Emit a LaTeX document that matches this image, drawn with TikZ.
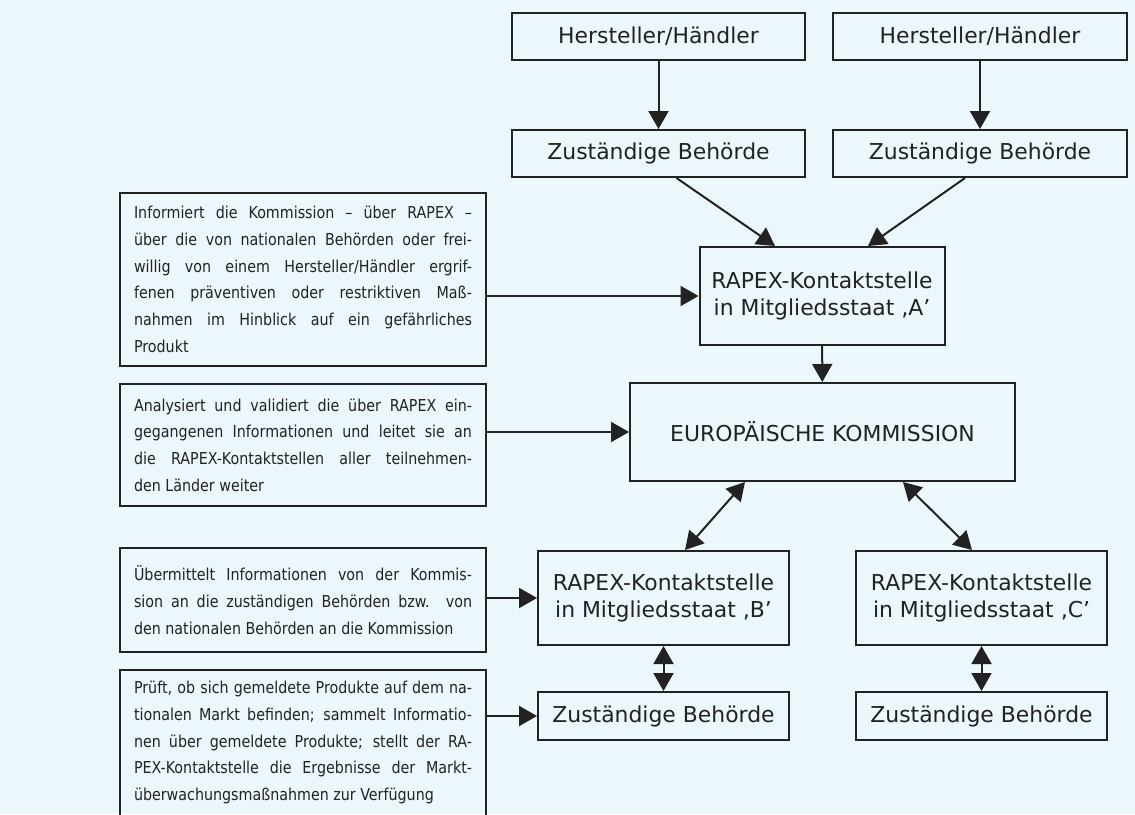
\documentclass[tikz,border=0pt]{standalone}
\usepackage{fontspec}
\setmainfont{DejaVu Sans}
\newfontfamily\condfont{DejaVu Sans}[FakeStretch=0.87]
\usetikzlibrary{arrows.meta}

\definecolor{fond}{RGB}{236,247,252}
\definecolor{trait}{RGB}{34,34,34}

\newcommand\boitefont{\fontsize{10.95pt}{13.5pt}\selectfont}
\newcommand\textefont{\condfont\fontsize{8.2pt}{13.35pt}\selectfont\tolerance=10000\hyphenpenalty=10000}

\tikzset{
  boite/.style={draw=trait, line width=1pt, text=trait, align=center, font=\boitefont, inner sep=2pt},
  texte/.style={draw=trait, line width=1pt, text=trait, align=justify, font=\textefont,
    text width=169pt, inner xsep=7pt, inner ysep=2pt, minimum width=183pt},
  fleche/.style={draw=trait, line width=1pt, -{Triangle[length=9pt,width=10pt]}},
  dfleche/.style={draw=trait, line width=1pt, {Triangle[length=9pt,width=10pt]}-{Triangle[length=9pt,width=10pt]}}
}

\begin{document}
\begin{tikzpicture}[x=0.5pt, y=-0.5pt]

  % 1. Fond
  \useasboundingbox (0,0) rectangle (1135,814);
  \fill[fond] (0,0) rectangle (1135,814);

  % 2. Hersteller et autorités en haut
  \node[boite, minimum width=146.5pt, minimum height=23.5pt] (hs1) at (658.5,36.5) {Hersteller/Händler};
  \node[boite, minimum width=147pt, minimum height=23.5pt] (hs2) at (980,36.5) {Hersteller/Händler};
  \node[boite, minimum width=146.5pt, minimum height=23.5pt] (zb1) at (658.5,153.5) {Zuständige Behörde};
  \node[boite, minimum width=147pt, minimum height=23.5pt] (zb2) at (980,153.5) {Zuständige Behörde};

  % 3. Point de contact A et Commission
  \node[boite, minimum width=122.5pt, minimum height=49pt] (rpA) at (822,296) {RAPEX-Kontaktstelle\\in Mitgliedsstaat ‚A’};
  \node[boite, minimum width=192.5pt, minimum height=49pt] (ek) at (822.5,432) {EUROPÄISCHE KOMMISSION};

  % 4. Points de contact B et C, autorités en bas
  \node[boite, minimum width=125.5pt, minimum height=47pt] (rpB) at (663.5,598) {RAPEX-Kontaktstelle\\in Mitgliedsstaat ‚B’};
  \node[boite, minimum width=125.5pt, minimum height=47pt] (rpC) at (981.5,598) {RAPEX-Kontaktstelle\\in Mitgliedsstaat ‚C’};
  \node[boite, minimum width=125.5pt, minimum height=24pt] (zbB) at (663.5,716) {Zuständige Behörde};
  \node[boite, minimum width=125.5pt, minimum height=24pt] (zbC) at (981.5,716) {Zuständige Behörde};

  % 5. Textes explicatifs à gauche
  \node[texte, minimum height=86.5pt] (t1) at (303,279.5) {Informiert die Kommission – über RAPEX –\linebreak
    über die von nationalen Behörden oder frei-\linebreak
    willig von einem Hersteller/Händler ergrif-\linebreak
    fenen präventiven oder restriktiven Maß-\linebreak
    nahmen im Hinblick auf ein gefährliches\linebreak
    Produkt};
  \node[texte, minimum height=61pt] (t2) at (303,445) {Analysiert und validiert die über RAPEX ein-\linebreak
    gegangenen Informationen und leitet sie an\linebreak
    die RAPEX-Kontaktstellen aller teilnehmen-\linebreak
    den Länder weiter};
  \node[texte, minimum height=52pt] (t3) at (303,600) {Übermittelt Informationen von der Kommis-\linebreak
    sion an die zuständigen Behörden bzw. von\linebreak
    den nationalen Behörden an die Kommission};
  \node[texte, minimum height=73pt] (t4) at (303,742.5) {Prüft, ob sich gemeldete Produkte auf dem na-\linebreak
    tionalen Markt befinden; sammelt Informatio-\linebreak
    nen über gemeldete Produkte; stellt der RA-\linebreak
    PEX-Kontaktstelle die Ergebnisse der Markt-\linebreak
    überwachungsmaßnahmen zur Verfügung};

  % 6. Flèches
  \draw[fleche] (hs1) -- (zb1);
  \draw[fleche] (hs2) -- (zb2);
  \draw[fleche] ([xshift=9pt]zb1.south) -- ([xshift=-23.5pt]rpA.north);
  \draw[fleche] ([xshift=-7.5pt]zb2.south) -- ([xshift=23pt]rpA.north);
  \draw[fleche] (rpA) -- (ek);
  \draw[dfleche] ([xshift=-38.75pt]ek.south) -- ([xshift=10.75pt]rpB.north);
  \draw[dfleche] ([xshift=40.25pt]ek.south) -- ([xshift=-4.75pt]rpC.north);
  \draw[dfleche] (rpB) -- (zbB);
  \draw[dfleche] (rpC) -- (zbC);

  % 7. Liaisons des textes
  \draw[fleche] (rpA.west -| t1.east) -- (rpA.west);
  \draw[fleche] (ek.west -| t2.east) -- (ek.west);
  \draw[fleche] (rpB.west -| t3.east) -- (rpB.west);
  \draw[fleche] (zbB.west -| t4.east) -- (zbB.west);

\end{tikzpicture}
\end{document}
